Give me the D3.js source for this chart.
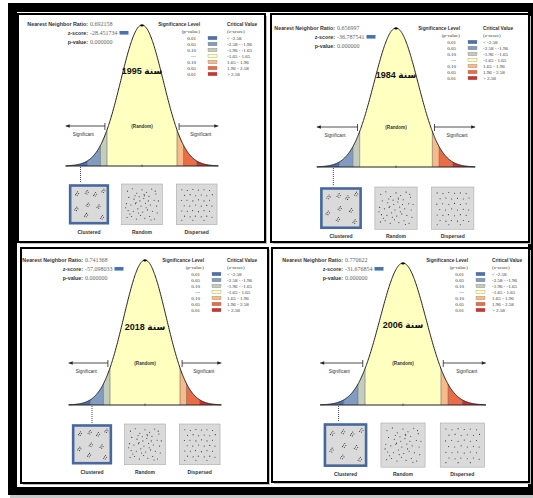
<!DOCTYPE html>
<html>
<head>
<meta charset="utf-8">
<script src="https://cdn.jsdelivr.net/npm/d3@7"></script>
<style>
  body { margin: 0; background: #fff; }
  svg { display: block; }
</style>
</head>
<body>
<div id="chart"></div>
<script>
const years = ["1995", "1984", "2018", "2006"];
const nnRatio = ["0.692158", "0.656997", "0.741368", "0.770622"];
const zScores = ["-28.451734", "-36.787541", "-57.098033", "-31.676854"];
const pValues = ["0.000000", "0.000000", "0.000000", "0.000000"];

const sigLevels = ["0.01", "0.05", "0.10", "---", "0.10", "0.05", "0.01"];
const critValues = ["< -2.58", "-2.58 - -1.96", "-1.96 - -1.65", "-1.65 - 1.65", "1.65 - 1.96", "1.96 - 2.58", "> 2.58"];
const zBreaks = [-3.6, -2.58, -1.96, -1.65, 1.65, 1.96, 2.58, 3.6];
const binColors = ["#4a72b0", "#819cc0", "#c3ccbd", "#ffffc0", "#f8ba88", "#ea6d47", "#d3302a"];
const patternNames = ["Clustered", "Random", "Dispersed"];

// thumbnail point patterns (unit square)
const clusterCenters = [[0.14,0.18],[0.42,0.14],[0.66,0.2],[0.9,0.1],[0.12,0.62],[0.45,0.5],[0.76,0.55],[0.4,0.8],[0.86,0.86]];
const clusterShape = [[0,0],[0.03,-0.04],[0.06,0.01],[-0.03,0.04],[0.02,0.06]];
const randomPts = [[0.08,0.12],[0.22,0.05],[0.35,0.18],[0.5,0.08],[0.63,0.15],[0.78,0.06],[0.9,0.2],[0.12,0.3],[0.27,0.35],[0.42,0.28],[0.55,0.33],[0.7,0.27],[0.85,0.38],[0.05,0.48],[0.18,0.52],[0.33,0.45],[0.47,0.55],[0.6,0.47],[0.74,0.52],[0.92,0.55],[0.1,0.68],[0.25,0.7],[0.38,0.63],[0.52,0.72],[0.66,0.66],[0.8,0.7],[0.94,0.75],[0.07,0.88],[0.2,0.85],[0.34,0.92],[0.46,0.82],[0.58,0.9],[0.72,0.85],[0.86,0.92],[0.3,0.25],[0.62,0.6],[0.44,0.4],[0.15,0.78],[0.88,0.12],[0.56,0.22],[0.4,0.75],[0.68,0.4],[0.76,0.95],[0.03,0.6],[0.97,0.4],[0.57,0.25],[0.31,0.48]];
const dispersedPts = [[0.07,0.08],[0.23,0.1],[0.39,0.07],[0.55,0.09],[0.71,0.08],[0.87,0.1],
  [0.15,0.24],[0.31,0.22],[0.47,0.25],[0.63,0.23],[0.79,0.25],[0.95,0.22],
  [0.06,0.39],[0.22,0.38],[0.39,0.4],[0.55,0.37],[0.71,0.4],[0.87,0.38],
  [0.14,0.54],[0.3,0.55],[0.47,0.52],[0.63,0.55],[0.79,0.53],[0.94,0.55],
  [0.07,0.69],[0.23,0.7],[0.38,0.68],[0.55,0.71],[0.71,0.68],[0.87,0.7],
  [0.15,0.84],[0.31,0.86],[0.46,0.84],[0.63,0.86],[0.79,0.84],[0.94,0.87],
  [0.07,0.96],[0.39,0.96],[0.71,0.96]];

// layout of each report panel
const layouts = [
  {fx:18,  fy:14,  fw:247, fh:228, cx:142, peak:25,  base:166, u:21.2, tx:88,  ty:26,  sx:200, cvx:227, yearY:74,  arrowY:126, boxY:184, dotZ:-2.9},
  {fx:271, fy:14,  fw:258, fh:228, cx:396, peak:28,  base:167, u:22,   tx:335, ty:30,  sx:460, cvx:483, yearY:78,  arrowY:127, boxY:187, dotZ:-2.85},
  {fx:21,  fy:248, fw:247, fh:235, cx:145, peak:260, base:405, u:21.2, tx:83,  ty:262, sx:204, cvx:227, yearY:330, arrowY:363, boxY:424, dotZ:-2.5},
  {fx:272, fy:248, fw:257, fh:234, cx:403, peak:263, base:405, u:23,   tx:343, ty:262, sx:468, cvx:492, yearY:328, arrowY:363, boxY:423, dotZ:-2.8}
];

const W = 533, H = 498;
const svg = d3.select("#chart").append("svg")
    .attr("width", W)
    .attr("height", H);

svg.append("rect").attr("width", W).attr("height", H).attr("fill", "#fff");
// outer black frame
svg.append("rect").attr("x", 8).attr("y", 3).attr("width", 525).attr("height", 492).attr("fill", "#000");
svg.append("rect").attr("x", 17).attr("y", 12).attr("width", 511).attr("height", 475).attr("fill", "#fff");
svg.append("rect").attr("x", 10).attr("y", 495).attr("width", 523).attr("height", 3).attr("fill", "#c8c8c8");

const pdf = z => Math.exp(-z * z / 2);
const sans = "'Liberation Sans', Arial, sans-serif";
const serif = "'Liberation Serif', 'Times New Roman', serif";

layouts.forEach((L, i) => {
    const g = svg.append("g");

    // panel frame with a soft shadow
    g.append("rect").attr("x", L.fx + 2).attr("y", L.fy + 2).attr("width", L.fw).attr("height", L.fh)
        .attr("fill", "#bdbdbd");
    g.append("rect").attr("x", L.fx).attr("y", L.fy).attr("width", L.fw).attr("height", L.fh)
        .attr("fill", "#fff").attr("stroke", "#000").attr("stroke-width", 2);

    const x = d3.scaleLinear().domain([-3.6, 3.6]).range([L.cx - 3.6 * L.u, L.cx + 3.6 * L.u]);
    const y = d3.scaleLinear().domain([0, 1]).range([L.base, L.peak]);

    // coloured bands under the curve
    binColors.forEach((c, b) => {
        const z0 = zBreaks[b], z1 = zBreaks[b + 1];
        const zs = d3.range(z0, z1, 0.02).concat([z1]);
        g.append("path")
            .datum(zs)
            .attr("d", d3.area().x(z => x(z)).y0(L.base).y1(z => y(pdf(z))))
            .attr("fill", c);
    });
    // band separators
    zBreaks.slice(1, -1).forEach(z => {
        g.append("line")
            .attr("x1", x(z)).attr("x2", x(z))
            .attr("y1", L.base).attr("y2", y(pdf(z)))
            .attr("stroke", "#555").attr("stroke-width", 0.5);
    });
    // curve outline
    const zAll = d3.range(-3.6, 3.6, 0.02).concat([3.6]);
    g.append("path")
        .datum(zAll)
        .attr("d", d3.line().x(z => x(z)).y(z => y(pdf(z))))
        .attr("fill", "none").attr("stroke", "#222").attr("stroke-width", 1);
    g.append("ellipse").attr("cx", x(0)).attr("cy", y(1) + 0.5).attr("rx", 1.8).attr("ry", 1).attr("fill", "#000");
    // baseline
    g.append("line")
        .attr("x1", x(-3.6)).attr("x2", x(3.6))
        .attr("y1", L.base).attr("y2", L.base)
        .attr("stroke", "#222").attr("stroke-width", 1);
    g.append("line")
        .attr("x1", x(0)).attr("x2", x(0))
        .attr("y1", L.base - 1.5).attr("y2", L.base + 1)
        .attr("stroke", "#222").attr("stroke-width", 0.6);

    // significance arrows
    [[-1.75, -3.6], [1.75, 3.6]].forEach(([zIn, zOut]) => {
        const xi = x(zIn), xo = x(zOut), dir = Math.sign(zOut);
        g.append("line").attr("x1", xi).attr("x2", xo).attr("y1", L.arrowY).attr("y2", L.arrowY)
            .attr("stroke", "#222").attr("stroke-width", 0.8);
        g.append("line").attr("x1", xi).attr("x2", xi).attr("y1", L.arrowY - 3).attr("y2", L.arrowY + 4)
            .attr("stroke", "#222").attr("stroke-width", 0.8);
        g.append("path")
            .attr("d", `M${xo},${L.arrowY} l${-dir * 4},-1.8 l0,3.6 z`)
            .attr("fill", "#222");
        g.append("text")
            .attr("x", x(zOut * 0.77)).attr("y", L.arrowY + 10)
            .attr("text-anchor", "middle")
            .attr("font-family", sans).attr("font-size", 4.6).attr("fill", "#333")
            .text("Significant");
    });
    g.append("text")
        .attr("x", x(0)).attr("y", L.arrowY + 2)
        .attr("text-anchor", "middle")
        .attr("font-family", sans).attr("font-size", 4.6).attr("font-weight", "bold").attr("fill", "#333")
        .text("(Random)");

    // year label
    g.append("text")
        .attr("x", x(0)).attr("y", L.yearY)
        .attr("text-anchor", "middle")
        .attr("direction", "rtl")
        .attr("font-family", "'Liberation Sans', 'DejaVu Sans', sans-serif")
        .attr("font-size", 9).attr("font-weight", "bold").attr("fill", "#111")
        .text("سنة " + years[i]);

    // statistics block
    const stats = [["Nearest Neighbor Ratio:", nnRatio[i]], ["z-score:", zScores[i]], ["p-value:", pValues[i]]];
    stats.forEach(([lab, val], k) => {
        const yy = L.ty + k * 9;
        g.append("text")
            .attr("x", L.tx).attr("y", yy).attr("text-anchor", "end")
            .attr("font-family", sans).attr("font-size", 5.3).attr("font-weight", "bold").attr("fill", "#333")
            .text(lab);
        const v = g.append("text")
            .attr("x", L.tx + 2).attr("y", yy)
            .attr("font-family", serif).attr("font-size", 6).attr("fill", "#666")
            .text(val);
        if (k === 1) {
            const wv = v.node().getComputedTextLength();
            g.append("rect")
                .attr("x", L.tx + 4 + wv).attr("y", yy - 4)
                .attr("width", 9).attr("height", 3.6)
                .attr("fill", binColors[0]);
        }
    });

    // legend
    const legText = (tx, ty, s, anchor, bold) => g.append("text")
        .attr("x", tx).attr("y", ty).attr("text-anchor", anchor)
        .attr("font-family", bold ? sans : serif)
        .attr("font-size", bold ? 4.8 : 5)
        .attr("font-weight", bold ? "bold" : "normal")
        .attr("fill", "#333").text(s);
    legText(L.sx, L.ty, "Significance Level", "end", true);
    legText(L.sx, L.ty + 7, "(p-value)", "end", false);
    legText(L.cvx, L.ty, "Critical Value", "start", true);
    legText(L.cvx, L.ty + 7, "(z-score)", "start", false);
    sigLevels.forEach((p, r) => {
        const ry = L.ty + 14 + r * 6;
        legText(L.sx - 4, ry, p, "end", false);
        g.append("rect")
            .attr("x", L.sx + 8).attr("y", ry - 3.8)
            .attr("width", 9).attr("height", 3.6)
            .attr("fill", binColors[r]).attr("stroke", "#777").attr("stroke-width", 0.3);
        legText(L.cvx, ry, critValues[r], "start", false);
    });

    // pattern thumbnails
    const bs = 1.92 * L.u;
    const offsets = [-2.5, 0, 2.58];
    const patterns = [
        clusterCenters.flatMap(c => clusterShape.map(o => [c[0] + o[0], c[1] + o[1]])),
        randomPts,
        dispersedPts
    ];
    patternNames.forEach((name, k) => {
        const bx = x(offsets[k]) - bs / 2;
        const inner = k === 0 ? 1.5 : 0;
        const px = d3.scaleLinear().domain([0, 1]).range([bx + 3, bx + bs - 3]);
        const py = d3.scaleLinear().domain([0, 1]).range([L.boxY + 3, L.boxY + bs - 3]);
        g.append("rect")
            .attr("x", bx + inner).attr("y", L.boxY + inner)
            .attr("width", bs - 2 * inner).attr("height", bs - 2 * inner)
            .attr("fill", "#dadada")
            .attr("stroke", k === 0 ? "#46689f" : "#a9a9a9")
            .attr("stroke-width", k === 0 ? 2.6 : 0.6);
        g.selectAll(null)
            .data(patterns[k])
            .join("circle")
            .attr("cx", d => px(d[0]))
            .attr("cy", d => py(d[1]))
            .attr("r", 0.55)
            .attr("fill", "#333");
        g.append("text")
            .attr("x", bx + bs / 2).attr("y", L.boxY + bs + 9)
            .attr("text-anchor", "middle")
            .attr("font-family", sans).attr("font-size", 5).attr("font-weight", "bold").attr("fill", "#333")
            .text(name);
    });

    // dotted pointer from the curve to the clustered pattern
    g.append("line")
        .attr("x1", x(L.dotZ)).attr("x2", x(L.dotZ))
        .attr("y1", L.base + 1).attr("y2", L.boxY - 1)
        .attr("stroke", "#445").attr("stroke-width", 1)
        .attr("stroke-dasharray", "1,1");
});
</script>
</body>
</html>
